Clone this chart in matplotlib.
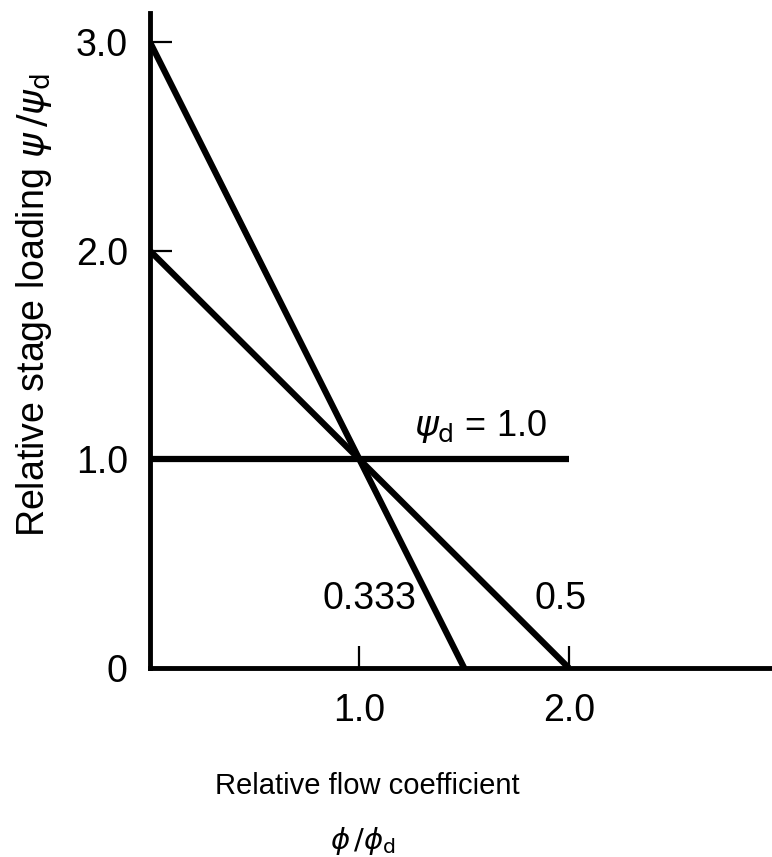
import matplotlib
matplotlib.use("Agg")
from matplotlib import pyplot as plt

plt.rcParams['font.family'] = ['Liberation Sans', 'DejaVu Sans']
plt.rcParams['mathtext.fontset'] = 'dejavusans'

# 数据
phi_design = [0.0, 2.0]
psi_design = [1.0, 1.0]
phi_333 = [0.0, 1.5]
psi_333 = [3.0, 0.0]
phi_05 = [0.0, 2.0]
psi_05 = [2.0, 0.0]

x_ticks = [1.0, 2.0]
x_tick_labels = ["1.0", "2.0"]
y_ticks = [0.0, 1.0, 2.0, 3.0]
y_tick_labels = ["0", "1.0", "2.0", "3.0"]

fig = plt.figure(figsize=(7.72, 8.57), dpi=100)
ax = fig.add_axes([0.1943, 0.2205, 0.8031, 0.7643])

line_kw = dict(color="black", lw=4.5, solid_capstyle="butt")
ax.plot(phi_design, psi_design, **line_kw)
ax.plot(phi_333, psi_333, **line_kw)
ax.plot(phi_05, psi_05, **line_kw)

ax.set_xlim(0, 2.96)
ax.set_ylim(0, 3.14)

for s in ["top", "right"]:
    ax.spines[s].set_visible(False)
for s in ["left", "bottom"]:
    ax.spines[s].set_linewidth(3.5)

ax.set_xticks(x_ticks)
ax.set_xticklabels(x_tick_labels)
ax.set_yticks(y_ticks)
ax.set_yticklabels(y_tick_labels)
ax.tick_params(axis="x", direction="in", length=16, width=1.6, pad=18, labelsize=27)
ax.tick_params(axis="y", direction="in", length=16, width=1.6, pad=16, labelsize=27)

ax.text(1.26, 1.11, r"$\psi_{\rm d}$ = 1.0", fontsize=26, ha="left", va="baseline")
ax.text(1.05, 0.33, "0.333", fontsize=27, ha="center", va="center")
ax.text(1.96, 0.33, "0.5", fontsize=27, ha="center", va="center")

fig.text(367 / 772, 1 - 786 / 857, "Relative flow coefficient", fontsize=21,
         ha="center", va="center")
fig.text(363 / 772, 1 - 841 / 857, r"$\phi\,/\phi_{\rm d}$", fontsize=21,
         ha="center", va="center")
fig.text(34 / 772, 1 - 305 / 857, r"Relative stage loading $\psi\,/\psi_{\rm d}$",
         fontsize=27, ha="center", va="center", rotation=90)

fig.savefig("out.png", dpi=100)
